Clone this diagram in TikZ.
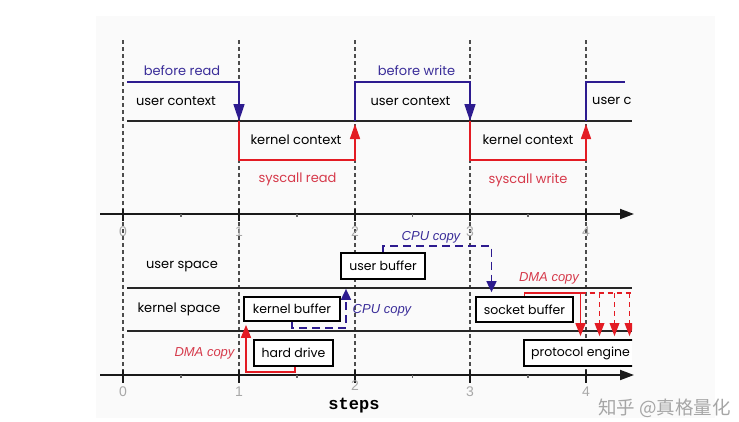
\documentclass[tikz,border=0pt]{standalone}
\usepackage{fontspec}
\setmainfont{Poppins}
\newfontfamily\monof{Liberation Mono}
\newfontfamily\helvf{Liberation Sans}
\newfontfamily\cjkf{Noto Sans CJK SC}
\usetikzlibrary{arrows.meta}
\definecolor{panel}{HTML}{FAFAFA}
\definecolor{ctxblue}{HTML}{2D1B8F}
\definecolor{ctxred}{HTML}{E31B23}
\definecolor{txtblue}{HTML}{3A2D99}
\definecolor{txtred}{HTML}{D63A4B}
\definecolor{numgray}{HTML}{A8A8A8}
\tikzset{
  lbl/.style={font=\fontsize{13}{15}\selectfont, inner sep=0pt},
  bluelbl/.style={lbl, text=txtblue},
  redlbl/.style={lbl, text=txtred},
  copylbl/.style={font=\helvf\itshape\fontsize{13}{15}\selectfont, inner sep=0pt},
  numlbl/.style={font=\helvf\fontsize{14}{16}\selectfont, text=numgray, inner sep=0pt},
  stepline/.style={draw=black!70, line width=1.6pt, dash pattern=on 3.5pt off 3.5pt},
  sepline/.style={draw=black!85, line width=1.3pt},
  axisline/.style={draw=black!90, line width=1.8pt, -{Triangle[length=14pt,width=10pt]}},
  majortick/.style={draw=black!90, line width=2pt},
  minortick/.style={draw=black!60, line width=1.2pt},
  bluectx/.style={draw=ctxblue, line width=1.6pt, line join=miter},
  redctx/.style={draw=ctxred, line width=1.6pt, line join=miter},
  downtip/.style={-{Triangle[length=17pt,width=11pt]}},
  uptip/.style={-{Triangle[length=15pt,width=10pt]}},
  buf/.style={draw=black, line width=1.7pt, fill=white, inner sep=0pt, font=\fontsize{12.5}{14}\selectfont},
  cpucopy/.style={draw=ctxblue, line width=1.7pt, dash pattern=on 8pt off 5pt, -{Triangle[length=11pt,width=10pt]}},
  dmacopy/.style={draw=ctxred, line width=1.7pt, -{Triangle[length=13pt,width=10pt]}},
  dmadash/.style={draw=ctxred, line width=1.7pt, dash pattern=on 5pt off 4pt},
}
\begin{document}
\begin{tikzpicture}[x=1pt,y=-1pt]
\useasboundingbox (0,0) rectangle (739,421);
\fill[panel] (96,16) rectangle (715,418);

% vertical step lines
\foreach \x in {123,239,355,470,586}{
  \draw[stepline] (\x,40) -- (\x,375);
}

% axes
\coordinate (axAs) at (100,214);
\coordinate (axAe) at (634,214);
\coordinate (axBs) at (100,375);
\coordinate (axBe) at (634,375);
\draw[axisline] (axAs) -- (axAe);
\draw[axisline] (axBs) -- (axBe);
\foreach \x/\i/\yb in {123/0/392,239/1/392,355/2/386,470/3/392,586/4/392}{
  \draw[majortick] (\x,209) -- (\x,221);
  \draw[majortick] (\x,370) -- (\x,383);
  \node[numlbl] (nA\i) at (\x,232) {\i};
  \node[numlbl] (nB\i) at (\x,\yb) {\i};
}
\foreach \x in {181,297,412.5,528}{
  \draw[minortick] (\x,214) -- ++(0,3);
  \draw[minortick] (\x,375) -- ++(0,3);
}
\node[font=\monof\bfseries\fontsize{17}{19}\selectfont, inner sep=0pt] (steps) at (354,406) {steps};

% separators
\coordinate (s1a) at (127,121); \coordinate (s1b) at (632,121);
\coordinate (s2a) at (127,288); \coordinate (s2b) at (632,288);
\coordinate (s3a) at (127,331); \coordinate (s3b) at (632,331);
\draw[sepline] (s1a) -- (s1b);
\draw[sepline] (s2a) -- (s2b);
\draw[sepline] (s3a) -- (s3b);

% context timeline
\coordinate (u0) at (127,82);
\coordinate (c1) at (239,121);
\coordinate (c2) at (355,121);
\coordinate (c3) at (470,121);
\coordinate (c4) at (586,121);
\coordinate (uend) at (625,82);
\draw[bluectx, downtip] (u0) -| (c1);
\draw[redctx, uptip] (c1) -- ++(0,39) -| ([yshift=-3pt]c2);
\draw[bluectx, downtip] (c2) -- ++(0,-39) -| (c3);
\draw[redctx, uptip] (c3) -- ++(0,39) -| ([yshift=-3pt]c4);
\draw[bluectx] (c4) |- (uend);

\node[bluelbl] (br) at (182,71) {before read};
\node[lbl] (uc1) at (176,101) {user context};
\node[lbl] (kc1) at (296,140) {kernel context};
\node[redlbl] (sr) at (297.5,179) {syscall read};
\node[bluelbl] (bw) at (416.5,71) {before write};
\node[lbl] (uc2) at (410.5,101) {user context};
\node[lbl] (kc2) at (528,140) {kernel context};
\node[redlbl] (sw) at (528,180) {syscall write};
\node[lbl, anchor=west] (uc3) at (592,101) {user c};

% bottom part labels
\node[lbl] (us) at (182,267) {user space};
\node[lbl] (ks) at (179,309) {kernel space};

% buffers
\node[buf, minimum width=96pt, minimum height=24pt] (kb) at (292,309) {kernel buffer};
\node[buf, minimum width=79pt, minimum height=26pt] (hd) at (293.5,353) {hard drive};
\node[buf, minimum width=84pt, minimum height=26pt] (ub) at (383,266) {user buffer};
\node[buf, minimum width=97pt, minimum height=25pt] (sb) at (524.5,309.5) {socket buffer};

% DMA copy (disk -> kernel buffer)
\draw[dmacopy, shorten >=3pt] ([xshift=1.5pt]hd.south) -- ++(0,5) -| ([xshift=-46pt]kb.south);
\node[copylbl, text=txtred] (dma1) at (204.5,353) {DMA copy};

% CPU copy (kernel buffer -> user buffer)
\draw[cpucopy, shorten >=9pt] (kb.south) -- ++(0,6) -| ([xshift=-37pt]ub.south);
\node[copylbl, text=txtblue] (cpu1) at (382,310) {CPU copy};

% CPU copy (user buffer -> socket buffer)
\draw[cpucopy, shorten >=4pt] (ub.north) -- ++(0,-6) -| ([xshift=-33pt]sb.north);
\node[copylbl, text=txtblue] (cpu2) at (431,237) {CPU copy};

% DMA copy (socket buffer -> protocol engine)
\node[copylbl, text=txtred] (dma2) at (549,278) {DMA copy};
\begin{scope}
\clip (0,0) rectangle (632,421);
\node[buf, minimum width=113pt, minimum height=26pt] (pe) at (580.5,353) {protocol engine};
\coordinate (dm) at (580.5,293);
\coordinate (dmend) at (640,293);
\draw[dmacopy, shorten >=3pt] (sb.north) |- (dm) -- (pe.north);
\draw[dmadash] (dm) -- (dmend);
\foreach \k/\dx in {1/19,2/34,3/49}{
  \coordinate (dtop\k) at ([xshift=\dx pt]dm);
  \draw[dmadash, shorten >=3pt] (dtop\k) -- ([xshift=\dx pt]pe.north);
  \fill[ctxred] ([xshift=\dx pt, yshift=3pt]pe.north) -- ++(-5,-13) -- ++(10,0) -- cycle;
}
\end{scope}

% watermark
\node[font=\cjkf\fontsize{18.5}{20}\selectfont, text=black!35, anchor=west, inner sep=0pt] (wm) at (598,408) {知乎 @真格量化};
\end{tikzpicture}
\end{document}
